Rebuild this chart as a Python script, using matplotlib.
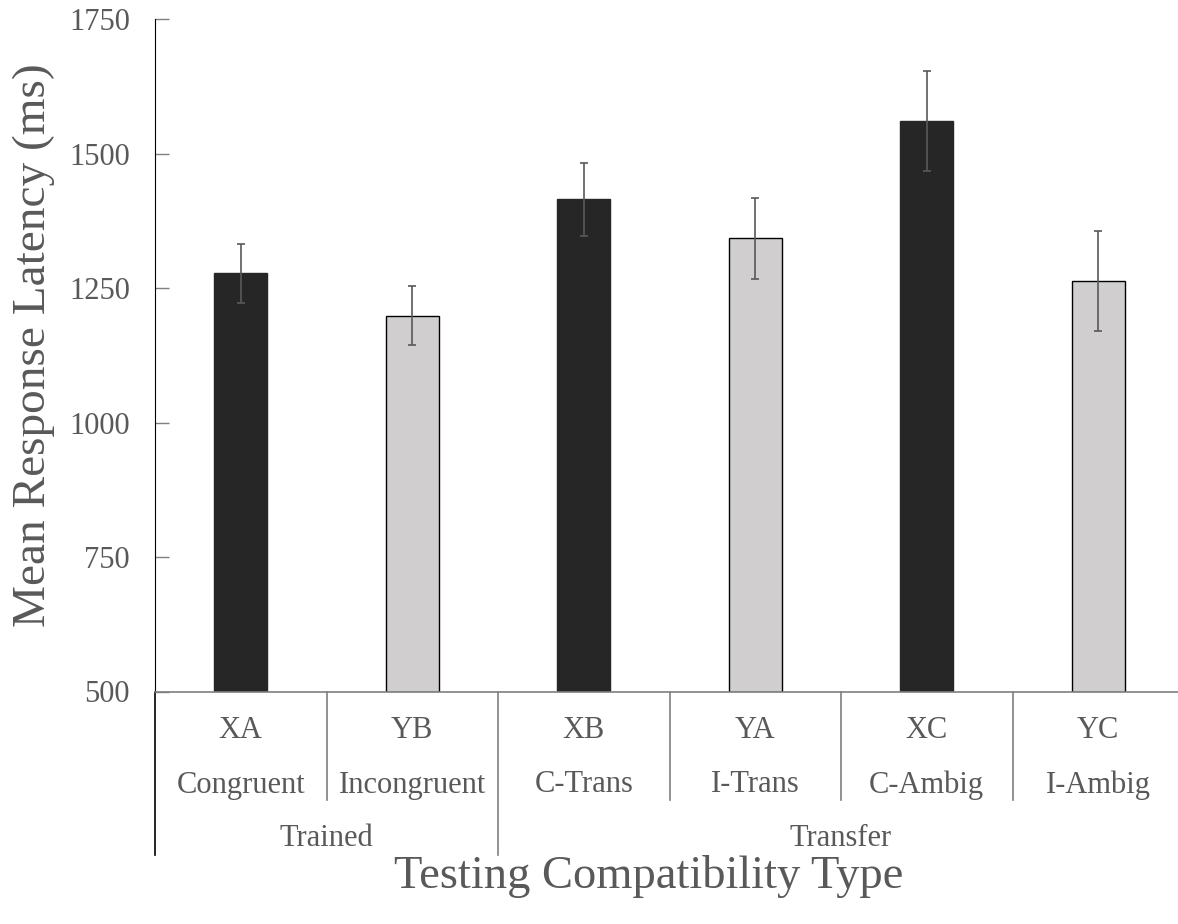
import matplotlib
matplotlib.use("Agg")
import matplotlib.pyplot as plt
import matplotlib.transforms as mtransforms
import numpy as np

pairs = ["XA", "YB", "XB", "YA", "XC", "YC"]
types = ["Congruent", "Incongruent", "C-Trans", "I-Trans", "C-Ambig", "I-Ambig"]
groups = ["Trained", "Transfer"]
group_sizes = [2, 4]
means = [1278, 1199, 1416, 1343, 1561, 1263]
errs = [55, 55, 68, 75, 93, 93]
colors = ["#262626", "#d0cecf", "#262626", "#d0cecf", "#262626", "#d0cecf"]

plt.rcParams['font.family'] = ['Liberation Serif', 'DejaVu Serif']
txt = "#595959"
gray = "#7f7f7f"

fig = plt.figure(figsize=(11.78, 9.24), dpi=100)
W, H = 1178, 924
x0, x1 = 155, 155 + 171.5 * 6
y_top, y_bot = 19.5, 691.5
ax = fig.add_axes([x0 / W, 1 - y_bot / H, (x1 - x0) / W, (y_bot - y_top) / H])

x = np.arange(len(means)) + 0.5
for i in range(len(means)):
    ec = "black" if colors[i] != "#262626" else colors[i]
    ax.bar(x[i], means[i] - 500, bottom=500, width=0.31, color=colors[i],
           edgecolor=ec, linewidth=1.0, zorder=2)
ax.errorbar(x, means, yerr=errs, fmt="none", ecolor=txt, elinewidth=1.2,
            capsize=3, capthick=1.2, zorder=3)

ax.set_xlim(0, 6)
ax.set_ylim(500, 1750)
ax.set_yticks(np.arange(500, 1751, 250))
ax.tick_params(axis="y", direction="in", length=10, width=1, color=gray,
               labelsize=22, labelcolor=txt, pad=18)
ax.set_xticks([])
for s in ["top", "right"]:
    ax.spines[s].set_visible(False)
ax.spines["left"].set_color("black")
ax.spines["bottom"].set_color(gray)
ax.spines["bottom"].set_linewidth(1.2)

tr = mtransforms.blended_transform_factory(ax.transData, ax.transAxes)
def ay(py):
    return (y_bot - py) / (y_bot - y_top)

for i in range(len(pairs)):
    ax.text(x[i], ay(730), pairs[i], transform=tr, ha="center", va="center",
            fontsize=22, color=txt, clip_on=False)
    ax.text(x[i], ay(785), types[i], transform=tr, ha="center", va="center",
            fontsize=22, color=txt, clip_on=False)

# divider lines under the axis
edges = np.cumsum([0] + group_sizes)
for b in range(7):
    long = b in edges
    end = ay(855) if long else ay(800)
    c = "black" if b == 0 else gray
    ax.plot([b, b], [0, end], transform=tr, color=c, lw=1.2, clip_on=False)

for g in range(len(groups)):
    cx = (edges[g] + edges[g + 1]) / 2
    ax.text(cx, ay(838), groups[g], transform=tr, ha="center", va="center",
            fontsize=22, color=txt, clip_on=False)

fig.text(34 / W, 1 - 345 / H, "Mean Response Latency (ms)", rotation=90,
         ha="center", va="center", fontsize=34, color=txt)
fig.text(649 / W, 1 - 877 / H, "Testing Compatibility Type",
         ha="center", va="center", fontsize=33.5, color=txt)

fig.savefig("out.png", dpi=100)
